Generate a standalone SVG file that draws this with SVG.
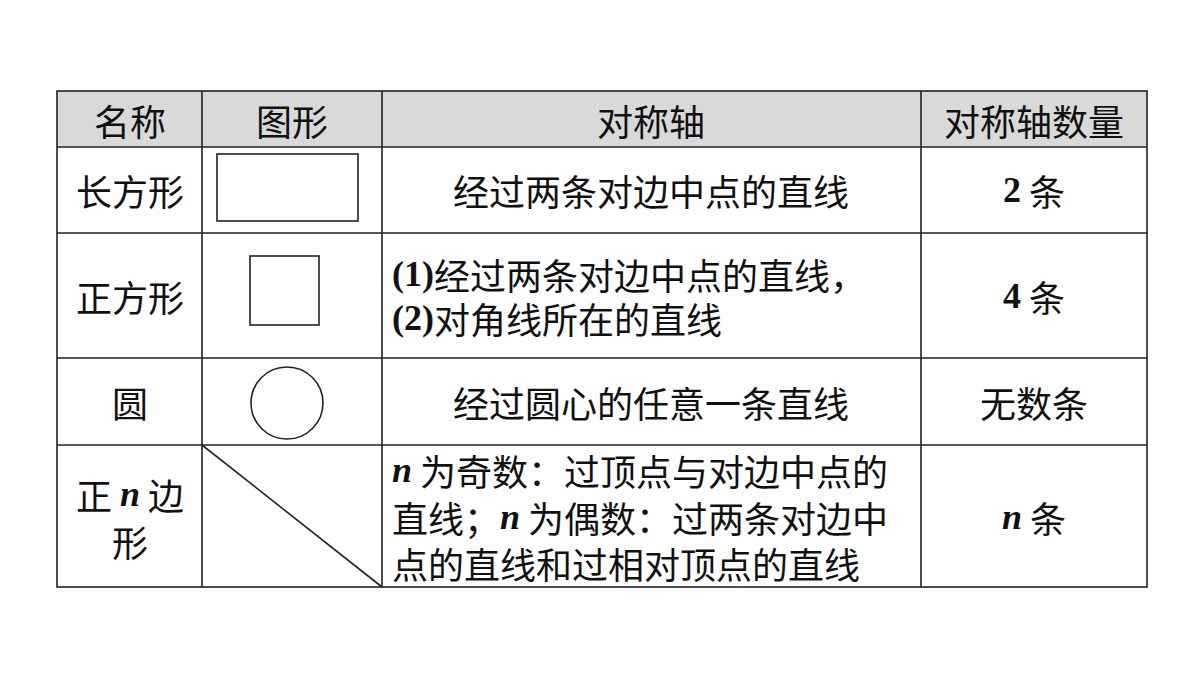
<svg xmlns="http://www.w3.org/2000/svg" width="1200" height="675" viewBox="0 0 1200 675">
<style>
.t{font-family:"Noto Sans CJK SC","Liberation Serif",sans-serif;font-size:36px;fill:#111;dominant-baseline:central}
.c{text-anchor:middle}
.b{font-family:"Liberation Serif",serif;font-weight:bold}
.i{font-family:"Liberation Serif",serif;font-weight:bold;font-style:italic}
.g{fill:none;stroke:#222;stroke-width:1.6}
</style>
<rect width="1200" height="675" fill="#fff"/>
<g id="table">
<rect x="57" y="91" width="1090" height="56" fill="#d9d9d9"/>
<rect x="57" y="91" width="1090" height="496" class="g"/>
<path class="g" d="M57 147H1147M57 233H1147M57 358H1147M57 445H1147M202 91V587M382 91V587M921 91V587"/>
</g>
<g id="header">
<text class="t c" x="130" y="120">名称</text>
<text class="t c" x="292" y="120">图形</text>
<text class="t c" x="651" y="120">对称轴</text>
<text class="t c" x="1034" y="120">对称轴数量</text>
</g>
<g id="row1">
<text class="t c" x="130" y="190">长方形</text>
<rect x="217" y="154" width="141" height="67" class="g"/>
<text class="t c" x="651" y="190">经过两条对边中点的直线</text>
<text class="t c" x="1034" y="190"><tspan class="b">2</tspan> 条</text>
</g>
<g id="row2">
<text class="t c" x="130" y="296">正方形</text>
<rect x="250" y="256" width="69" height="69" class="g"/>
<text class="t" x="392" y="274"><tspan class="b">(1)</tspan>经过两条对边中点的直线，</text>
<text class="t" x="392" y="318"><tspan class="b">(2)</tspan>对角线所在的直线</text>
<text class="t c" x="1034" y="296"><tspan class="b">4</tspan> 条</text>
</g>
<g id="row3">
<text class="t c" x="130" y="402">圆</text>
<circle cx="287" cy="403" r="36" class="g"/>
<text class="t c" x="651" y="402">经过圆心的任意一条直线</text>
<text class="t c" x="1034" y="402">无数条</text>
</g>
<g id="row4">
<text class="t c" x="130" y="494">正 <tspan class="i">n</tspan> 边</text>
<text class="t c" x="130" y="541">形</text>
<line x1="202" y1="445" x2="382" y2="587" class="g"/>
<text class="t" x="392" y="470"><tspan class="i">n</tspan> 为奇数：过顶点与对边中点的</text>
<text class="t" x="392" y="517">直线；<tspan class="i">n</tspan> 为偶数：过两条对边中</text>
<text class="t" x="392" y="563">点的直线和过相对顶点的直线</text>
<text class="t c" x="1034" y="517"><tspan class="i">n</tspan> 条</text>
</g>
</svg>
